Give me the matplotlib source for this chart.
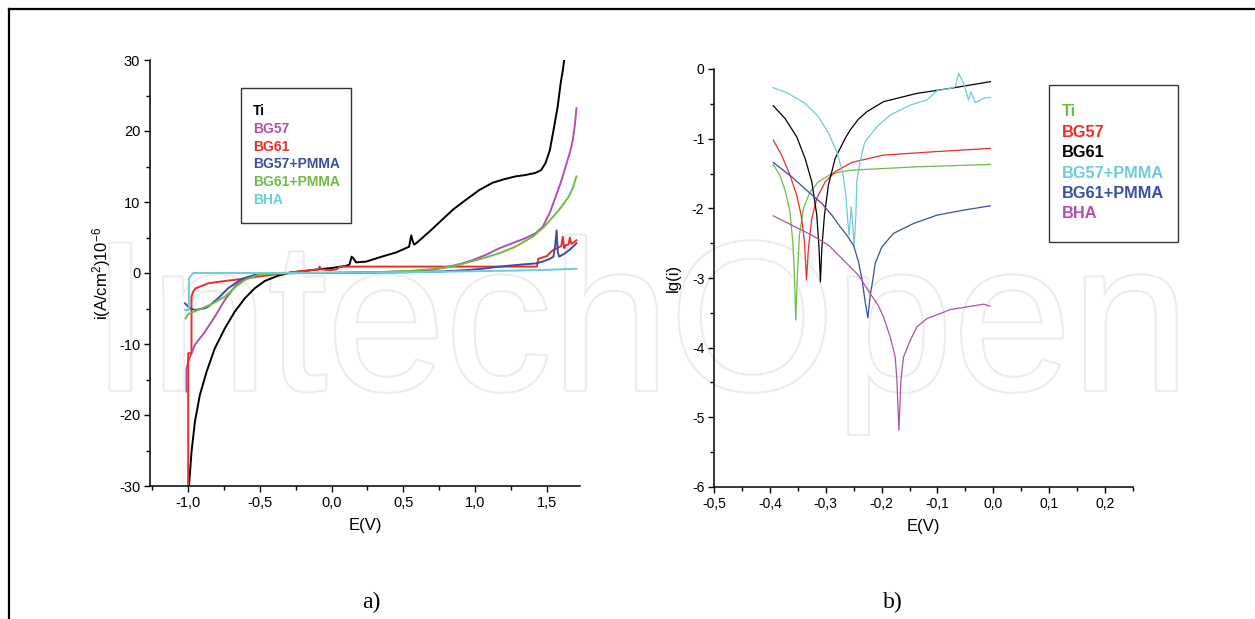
#!/usr/bin/env python3
import matplotlib
matplotlib.use("Agg")
import matplotlib.pyplot as plt
from matplotlib.lines import Line2D
from matplotlib.patches import Rectangle
from matplotlib.ticker import MultipleLocator, FuncFormatter
import matplotlib.patheffects as pe

plt.rcParams['font.family'] = ['Liberation Sans', 'DejaVu Sans']
plt.rcParams['mathtext.default'] = 'regular'
plt.rcParams['axes.unicode_minus'] = False

W, H = 1255, 619

# ---- a) polarisation curves, i (A/cm2) 10^-6 vs E(V) ----
a_labels = ["Ti", "BG57", "BG61", "BG57+PMMA", "BG61+PMMA", "BHA"]
a_colors = ["#000000", "#b24fab", "#ee2b25", "#3a4ea6", "#6cbd45", "#6ecbd9"]

a_ti_x = [-0.993, -0.975, -0.951, -0.917, -0.870, -0.8125, -0.743, -0.674, -0.604, -0.535,
          -0.465, -0.373, -0.28, -0.1875, -0.10, 0.0, 0.10, 0.125, 0.14, 0.155, 0.17, 0.24,
          0.35, 0.45, 0.54, 0.555, 0.565, 0.575, 0.59, 0.68, 0.77, 0.85, 0.935, 1.03, 1.12,
          1.20, 1.28, 1.35, 1.42, 1.46, 1.49, 1.52, 1.55, 1.575, 1.595, 1.61, 1.62]
a_ti_y = [-30.1, -25.2, -20.9, -17.2, -13.9, -10.6, -7.8, -5.45, -3.57, -2.15,
          -1.13, -0.38, 0.1, 0.28, 0.5, 0.7, 1.0, 1.2, 2.3, 2.0, 1.5, 1.6,
          2.3, 2.9, 3.7, 5.3, 4.5, 4.0, 4.2, 5.8, 7.5, 9.0, 10.3, 11.7, 12.7,
          13.2, 13.6, 13.8, 14.1, 14.5, 15.5, 17.3, 20.6, 23.5, 26.7, 28.5, 30.0]

a_bg57_x = [-1.01, -1.01, -0.998, -0.951, -0.882, -0.8125, -0.743, -0.674, -0.604, -0.512,
            -0.40, 0.0, 0.3, 0.6, 0.72, 0.82, 0.90, 0.98, 1.08, 1.17, 1.26, 1.35, 1.42,
            1.47, 1.52, 1.56, 1.60, 1.63, 1.66, 1.68, 1.695, 1.705]
a_bg57_y = [-16.7, -13.5, -12.5, -10.1, -8.3, -6.15, -3.8, -1.9, -0.75, -0.19,
            0.0, 0.0, 0.1, 0.3, 0.5, 0.9, 1.3, 1.8, 2.6, 3.5, 4.2, 4.9, 5.6,
            6.5, 8.5, 10.7, 13.0, 15.0, 17.0, 18.7, 21.0, 23.2]

a_bg61_x = [-0.998, -0.998, -0.985, -0.975, -0.975, -0.963, -0.947, -0.917, -0.859, -0.743,
            -0.627, -0.512, -0.396, -0.25, -0.15, -0.09, -0.083, -0.07, -0.014, 0.033,
            0.06, 0.2, 0.6, 1.0, 1.3, 1.43, 1.44, 1.50, 1.54, 1.58, 1.60, 1.61, 1.62,
            1.63, 1.65, 1.66, 1.67, 1.705]
a_bg61_y = [-30.0, -11.3, -11.3, -11.2, -3.33, -2.63, -2.16, -1.93, -1.45, -1.13,
            -0.85, -0.52, -0.19, 0.15, 0.4, 0.5, 0.9, 0.5, 0.4, 0.5,
            0.9, 0.9, 0.9, 0.9, 0.9, 0.9, 2.0, 2.4, 3.2, 3.6, 3.8, 5.1, 3.5,
            3.9, 4.0, 5.0, 4.1, 4.6]

a_bg57p_x = [-1.021, -0.986, -0.951, -0.882, -0.859, -0.79, -0.72, -0.627, -0.535, -0.40,
             -0.2, 0.2, 0.5, 0.75, 0.935, 1.05, 1.17, 1.30, 1.42, 1.47, 1.52, 1.545, 1.558,
             1.567, 1.575, 1.585, 1.62, 1.66, 1.705]
a_bg57p_y = [-4.27, -4.97, -5.2, -4.97, -4.74, -3.57, -2.15, -0.85, -0.28, -0.05,
             0.0, 0.05, 0.1, 0.2, 0.4, 0.6, 0.9, 1.15, 1.35, 1.6, 2.0, 2.3, 4.0,
             6.0, 3.0, 2.3, 2.7, 3.3, 4.2]

a_bg61p_x = [-1.016, -0.998, -0.928, -0.835, -0.743, -0.674, -0.604, -0.512, -0.40, -0.2,
             0.0, 0.3, 0.55, 0.70, 0.84, 0.95, 1.06, 1.17, 1.28, 1.40, 1.48, 1.55, 1.60,
             1.65, 1.68, 1.705]
a_bg61p_y = [-6.4, -5.8, -5.2, -4.4, -3.33, -2.07, -0.99, -0.28, -0.08, 0.0,
             0.0, 0.1, 0.3, 0.55, 0.9, 1.5, 2.1, 2.8, 3.7, 5.1, 6.5, 8.1, 9.3,
             10.7, 12.0, 13.6]

a_bha_x = [-1.021, -0.993, -0.993, -0.979, -0.963, -0.9, -0.5, 0.0, 0.5, 1.0, 1.3, 1.5, 1.705]
a_bha_y = [-5.2, -5.2, -0.75, -0.4, 0.0, 0.0, 0.0, 0.05, 0.1, 0.25, 0.35, 0.45, 0.6]

# ---- b) lg(i) vs E(V) ----
b_labels = ["Ti", "BG57", "BG61", "BG57+PMMA", "BG61+PMMA", "BHA"]
b_colors = ["#6cbd45", "#ee2b25", "#000000", "#6ecbd9", "#3a4ea6", "#b24fab"]

b_ti_x = [-0.394, -0.382, -0.372, -0.364, -0.359, -0.356, -0.3536, -0.3507, -0.3471, -0.340,
          -0.328, -0.313, -0.289, -0.2533, -0.1756, -0.1368, -0.0054]
b_ti_y = [-1.37, -1.523, -1.763, -2.05, -2.481, -2.96, -3.606, -2.96, -2.385, -2.002,
          -1.763, -1.619, -1.499, -1.451, -1.42, -1.404, -1.37]

b_bg57_x = [-0.394, -0.379, -0.364, -0.352, -0.344, -0.338, -0.3345, -0.331, -0.325, -0.316,
            -0.301, -0.283, -0.2533, -0.2174, -0.1966, -0.107, -0.0054]
b_bg57_y = [-1.02, -1.236, -1.523, -1.81, -2.098, -2.481, -3.032, -2.576, -2.146, -1.858,
            -1.619, -1.475, -1.341, -1.274, -1.236, -1.188, -1.14]

b_bg61_x = [-0.394, -0.373, -0.352, -0.337, -0.325, -0.316, -0.312, -0.3095, -0.307, -0.3023,
            -0.2952, -0.2832, -0.2652, -0.2563, -0.2414, -0.2264, -0.1966, -0.1368, -0.077,
            -0.0054]
b_bg61_y = [-0.527, -0.709, -0.972, -1.283, -1.616, -2.098, -2.576, -3.056, -2.576, -2.098,
            -1.667, -1.283, -0.996, -0.876, -0.72, -0.613, -0.469, -0.35, -0.278,
            -0.182]

b_bg57p_x = [-0.394, -0.367, -0.337, -0.313, -0.295, -0.280, -0.270, -0.264, -0.2605, -0.2581,
             -0.2545, -0.2521, -0.2491, -0.2461, -0.2443, -0.2384, -0.2324, -0.2294, -0.2085,
             -0.1846, -0.1487, -0.1188, -0.1009, -0.077, -0.0681, -0.0621, -0.0532, -0.0443,
             -0.040, -0.0323, -0.0174, -0.0054]
b_bg57p_y = [-0.268, -0.35, -0.493, -0.685, -0.924, -1.188, -1.475, -1.81, -2.193, -2.385,
             -1.978, -2.193, -2.538, -2.098, -1.6, -1.331, -1.116, -1.044, -0.829,
             -0.661, -0.517, -0.445, -0.312, -0.278, -0.254, -0.062, -0.206, -0.445,
             -0.326, -0.484, -0.421, -0.407]

b_bg61p_x = [-0.394, -0.361, -0.331, -0.307, -0.289, -0.2742, -0.2622, -0.2503, -0.2414,
             -0.2353, -0.2294, -0.2246, -0.2204, -0.2163, -0.2115, -0.1995, -0.1787, -0.1428,
             -0.1009, -0.0532, -0.0054]
b_bg61p_y = [-1.341, -1.547, -1.763, -1.93, -2.098, -2.265, -2.385, -2.529, -2.768,
             -3.008, -3.343, -3.573, -3.247, -3.056, -2.79, -2.553, -2.36, -2.217,
             -2.098, -2.026, -1.964]

b_bha_x = [-0.394, -0.361, -0.325, -0.295, -0.2652, -0.2414, -0.2204, -0.2056, -0.1966,
           -0.1846, -0.1756, -0.1726, -0.169, -0.1654, -0.1607, -0.1487, -0.1368, -0.1188,
           -0.095, -0.077, -0.0471, -0.0174, -0.0054]
b_bha_y = [-2.107, -2.241, -2.385, -2.529, -2.768, -2.96, -3.223, -3.40, -3.559,
           -3.846, -4.134, -4.468, -5.187, -4.468, -4.134, -3.894, -3.702, -3.582,
           -3.51, -3.453, -3.415, -3.376, -3.405]

a_series = [(a_ti_x, a_ti_y), (a_bg57_x, a_bg57_y), (a_bg61_x, a_bg61_y),
            (a_bg57p_x, a_bg57p_y), (a_bg61p_x, a_bg61p_y), (a_bha_x, a_bha_y)]
b_series = [(b_ti_x, b_ti_y), (b_bg57_x, b_bg57_y), (b_bg61_x, b_bg61_y),
            (b_bg57p_x, b_bg57p_y), (b_bg61p_x, b_bg61p_y), (b_bha_x, b_bha_y)]


def fx(x, y):
    """pixel -> figure fraction"""
    return x / W, 1 - y / H


def comma(v, pos):
    if abs(v) < 1e-9:
        v = 0.0
    return f"{v:.1f}".replace(".", ",")


def style_axes(ax, fs):
    ax.set_facecolor("none")
    ax.spines["top"].set_visible(False)
    ax.spines["right"].set_visible(False)
    for s in ("left", "bottom"):
        ax.spines[s].set_linewidth(1.1)
    ax.tick_params(which="major", direction="out", length=4, width=1, labelsize=fs, pad=3)
    ax.tick_params(which="minor", direction="out", length=3, width=1)


def text_legend(box, x0, y0, dy, labels, colors, fs):
    l, t, r, b = box
    x1, y1 = fx(l, b)
    x2, y2 = fx(r, t)
    fig.add_artist(Rectangle((x1, y1), x2 - x1, y2 - y1, transform=fig.transFigure,
                             fill=False, edgecolor="#333333", linewidth=1.0))
    for k, (lab, col) in enumerate(zip(labels, colors)):
        px, py = fx(x0, y0 + k * dy)
        fig.text(px, py, lab, color=col, fontsize=fs, fontweight="bold",
                 ha="left", va="center")


fig = plt.figure(figsize=(W / 100, H / 100), dpi=100)

# watermark
fig.text(0.51, 0.46, "IntechOpen", fontsize=153, color="white", ha="center", va="center",
         zorder=-1, path_effects=[pe.withStroke(linewidth=3, foreground="#ececec")])

# frame
fig.add_artist(Line2D([9 / W, 1], [1 - 9 / H, 1 - 9 / H], transform=fig.transFigure,
                      color="black", linewidth=1.6))
fig.add_artist(Line2D([9 / W, 9 / W], [1 - 9 / H, 0], transform=fig.transFigure,
                      color="black", linewidth=1.6))

# ---- panel a ----
ax1 = fig.add_axes([150 / W, 1 - 486 / H, 430 / W, 426 / H])
for (xs, ys), c in zip(a_series, a_colors):
    ax1.plot(xs, ys, color=c, linewidth=1.4)
ax1.set_xlim(-1.264, 1.73)
ax1.set_ylim(-30, 30)
ax1.xaxis.set_major_locator(MultipleLocator(0.5))
ax1.xaxis.set_minor_locator(MultipleLocator(0.25))
ax1.yaxis.set_major_locator(MultipleLocator(10))
ax1.yaxis.set_minor_locator(MultipleLocator(5))
ax1.xaxis.set_major_formatter(FuncFormatter(comma))
style_axes(ax1, 10.5)
ax1.set_xlabel("E(V)", fontsize=12, labelpad=6)
ax1.set_ylabel("i(A/cm$^2$)10$^{-6}$", fontsize=12, labelpad=4)

# ---- panel b ----
ax2 = fig.add_axes([714 / W, 1 - 487 / H, 419 / W, 418 / H])
for (xs, ys), c in zip(b_series, b_colors):
    ax2.plot(xs, ys, color=c, linewidth=0.9)
ax2.set_xlim(-0.5, 0.25)
ax2.set_ylim(-6, 0)
ax2.xaxis.set_major_locator(MultipleLocator(0.1))
ax2.xaxis.set_minor_locator(MultipleLocator(0.05))
ax2.yaxis.set_major_locator(MultipleLocator(1))
ax2.yaxis.set_minor_locator(MultipleLocator(0.5))
ax2.xaxis.set_major_formatter(FuncFormatter(comma))
ax2.yaxis.set_major_formatter(FuncFormatter(lambda v, p: f"{int(round(v))}"))
style_axes(ax2, 10)
ax2.set_xlabel("E(V)", fontsize=12, labelpad=6)
ax2.set_ylabel("lg(i)", fontsize=12, labelpad=8)

# legends (coloured text in a box)
text_legend((241, 88, 351, 223), 253, 111, 17.8, a_labels, a_colors, 10)
text_legend((1049, 85, 1178, 242), 1062, 112, 20.4, b_labels, b_colors, 11.8)

# panel letters
fig.text(*fx(371, 602), "a)", fontsize=17, family="Liberation Serif", ha="center", va="center")
fig.text(*fx(893, 602), "b)", fontsize=17, family="Liberation Serif", ha="center", va="center")

fig.savefig("out.png", dpi=100)
